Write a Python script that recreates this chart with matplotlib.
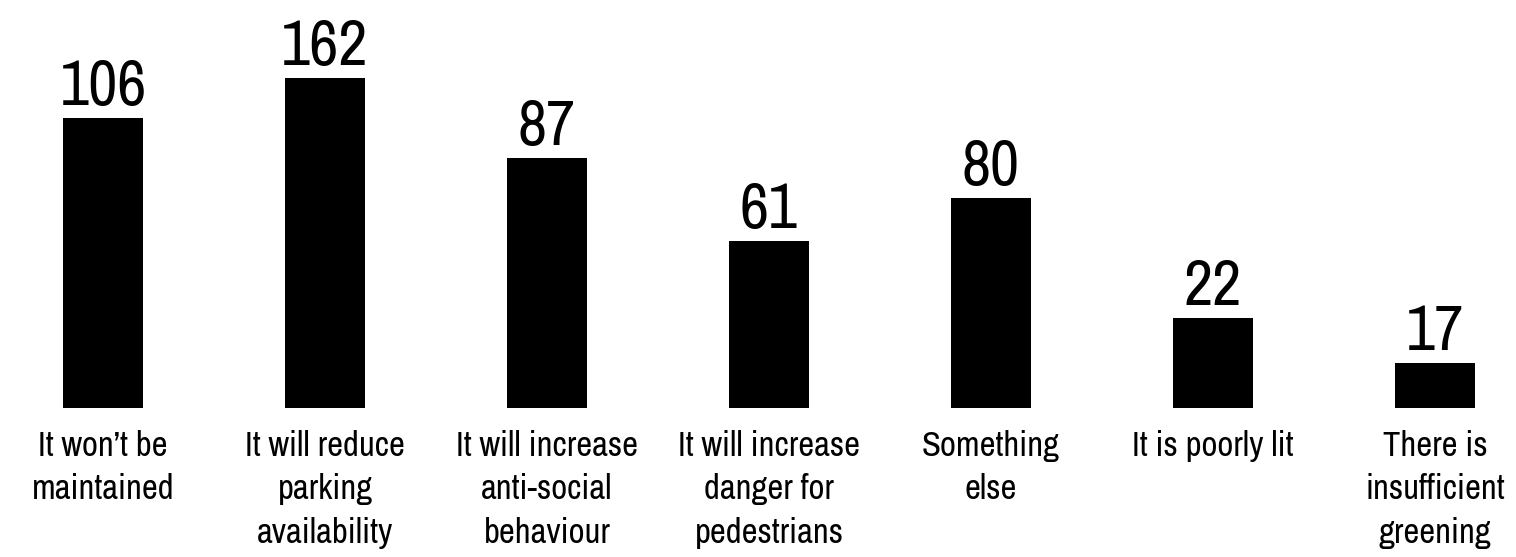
import matplotlib
matplotlib.use("Agg")
import matplotlib.pyplot as plt

plt.rcParams["font.family"] = ["Archivo Narrow", "DejaVu Sans"]

categories = [
    "It won\u2019t be\nmaintained",
    "It will reduce\nparking\navailability",
    "It will increase\nanti-social\nbehaviour",
    "It will increase\ndanger for\npedestrians",
    "Something\nelse",
    "It is poorly lit",
    "There is\ninsufficient\ngreening",
]
counts = [106, 162, 87, 61, 80, 22, 17]
# bar heights as drawn in the source (not proportional to the counts)
bar_heights = [142.4, 162, 122.7, 82.0, 103.1, 44.2, 22.1]

fig = plt.figure(figsize=(15.16, 5.57), dpi=100, facecolor="white")
ax = fig.add_axes([0, 1 - 408 / 557, 1, 408 / 557])
ax.set_facecolor("white")

x = list(range(len(categories)))
ax.bar(x, bar_heights, width=0.36, color="black")

for xi, h, c in zip(x, bar_heights, counts):
    ax.annotate(str(c), (xi, h), xytext=(0, 1.5), textcoords="offset points",
                ha="center", va="bottom", fontsize=46, color="black")

ax.set_xlim(-103 / 222, 6 + 81 / 222)
ax.set_ylim(0, 408 / (330 / 162))
ax.set_xticks(x)
ax.set_xticklabels(categories, fontsize=25, linespacing=1.43, multialignment="center")
ax.tick_params(axis="x", length=0, pad=16)
ax.set_yticks([])
for s in ax.spines.values():
    s.set_visible(False)

fig.savefig("out.png", dpi=100, facecolor="white")
